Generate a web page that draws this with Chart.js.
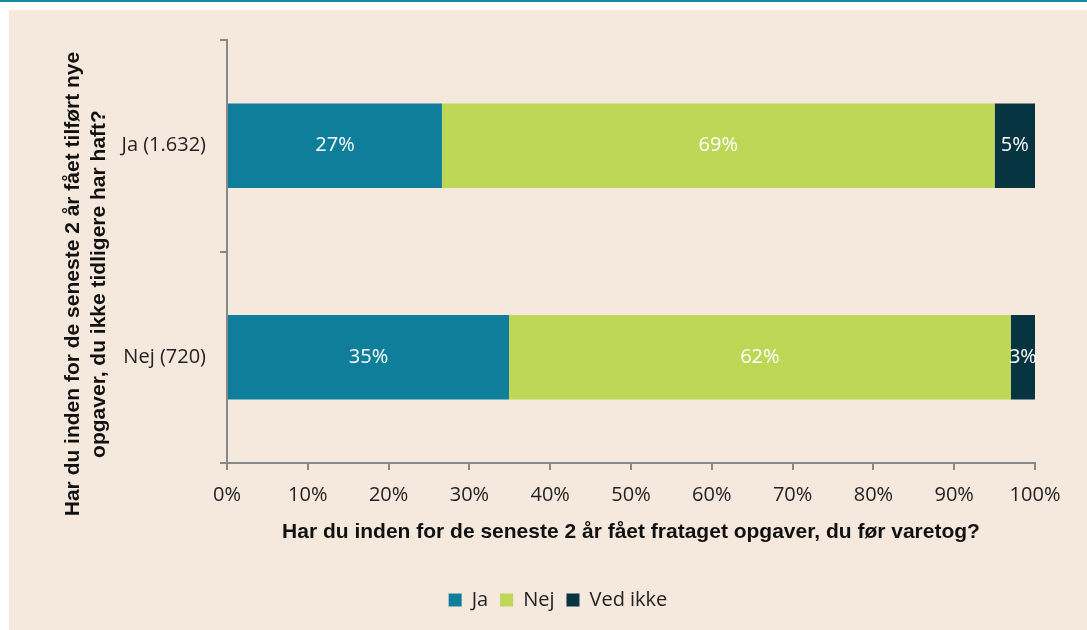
<!DOCTYPE html>
<html lang="da">
<head>
  <meta charset="UTF-8">
  <title>Opgaver</title>
  <style>
    body { margin:0; padding:0; background:#fff; width:1087px; height:630px; overflow:hidden; position:relative; }
    .topline { position:absolute; left:0; top:0; width:1087px; height:2px; background:#0f8aa0; }
    .box { position:absolute; left:9px; top:10px; width:1078px; height:620px; background:#f5e8dc; }
    canvas { display:block; }
  </style>
</head>
<body>
  <div class="topline"></div>
  <div class="box">
    <canvas id="chart" width="1078" height="620"></canvas>
  </div>

  <script src="https://cdn.jsdelivr.net/npm/chart.js"></script>
  <script>
    // data
    const categories = ['Ja (1.632)', 'Nej (720)'];
    const seriesNames = ['Ja', 'Nej', 'Ved ikke'];
    const jaValues = [26.6, 34.9];
    const nejValues = [68.4, 62.1];
    const vedIkkeValues = [5.0, 3.0];
    const jaLabels = ['27%', '35%'];
    const nejLabels = ['69%', '62%'];
    const vedIkkeLabels = ['5%', '3%'];
    const colors = ['#0f7e9b', '#bed757', '#063440'];

    const xTitle = 'Har du inden for de seneste 2 år fået frataget opgaver, du før varetog?';
    const yTitle = ['Har du inden for de seneste 2 år fået tilført nye', 'opgaver, du ikke tidligere har haft?'];

    const FONT = "'Open Sans', 'Noto Sans', sans-serif";
    const BOLD = "'Liberation Sans', Arial, sans-serif";

    // white percent labels in the middle of each segment
    const segLabels = {
      id: 'segLabels',
      afterDatasetsDraw(chart) {
        const ctx = chart.ctx;
        ctx.save();
        ctx.font = '20px ' + FONT;
        ctx.fillStyle = '#ffffff';
        ctx.textAlign = 'center';
        ctx.textBaseline = 'middle';
        chart.data.datasets.forEach((ds, di) => {
          chart.getDatasetMeta(di).data.forEach((bar, i) => {
            const cx = (bar.x + bar.base) / 2;
            ctx.fillText(ds.pctLabels[i], cx, bar.y);
          });
        });
        ctx.restore();
      }
    };

    // rotated two-line y axis title
    const yTitlePlugin = {
      id: 'yTitlePlugin',
      afterDraw(chart) {
        const ctx = chart.ctx;
        ctx.save();
        ctx.font = 'bold 21px ' + BOLD;
        ctx.fillStyle = '#111';
        ctx.textAlign = 'center';
        ctx.textBaseline = 'middle';
        ctx.translate(77, 274);
        ctx.rotate(-Math.PI / 2);
        ctx.fillText(yTitle[0], 0, -13);
        ctx.fillText(yTitle[1], 0, 13);
        ctx.restore();
      }
    };

    new Chart(document.getElementById('chart'), {
      type: 'bar',
      data: {
        labels: categories,
        datasets: [
          { label: seriesNames[0], data: jaValues, pctLabels: jaLabels, backgroundColor: colors[0] },
          { label: seriesNames[1], data: nejValues, pctLabels: nejLabels, backgroundColor: colors[1] },
          { label: seriesNames[2], data: vedIkkeValues, pctLabels: vedIkkeLabels, backgroundColor: colors[2] }
        ]
      },
      options: {
        indexAxis: 'y',
        responsive: false,
        animation: false,
        barPercentage: 1,
        categoryPercentage: 0.4,
        // left padding shifts the legend centre to match the reference
        layout: { padding: { top: 30, right: 52, left: 72, bottom: 10 } },
        scales: {
          x: {
            stacked: true,
            min: 0, max: 100,
            ticks: { stepSize: 10, callback: v => v + '%', color: '#222', font: { family: FONT, size: 20 }, padding: 13 },
            grid: { drawOnChartArea: false, tickLength: 7, color: '#888', lineWidth: 2 },
            border: { color: '#888', width: 2 },
            title: { display: true, text: xTitle, color: '#111', font: { family: BOLD, size: 21, weight: 'bold' }, padding: { top: 10, bottom: 33 } },
            afterFit: s => { s.height = 115; }
          },
          y: {
            stacked: true,
            ticks: { color: '#222', font: { family: FONT, size: 20 }, padding: 14 },
            grid: { offset: true, drawOnChartArea: false, tickLength: 7, color: '#888', lineWidth: 2 },
            border: { color: '#888', width: 2 },
            afterFit: s => { s.width = 146; }
          }
        },
        plugins: {
          legend: {
            position: 'bottom',
            labels: { boxWidth: 13, boxHeight: 13, color: '#222', font: { family: FONT, size: 20 }, padding: 12 }
          },
          tooltip: { enabled: false }
        }
      },
      plugins: [segLabels, yTitlePlugin]
    });
  </script>
</body>
</html>
